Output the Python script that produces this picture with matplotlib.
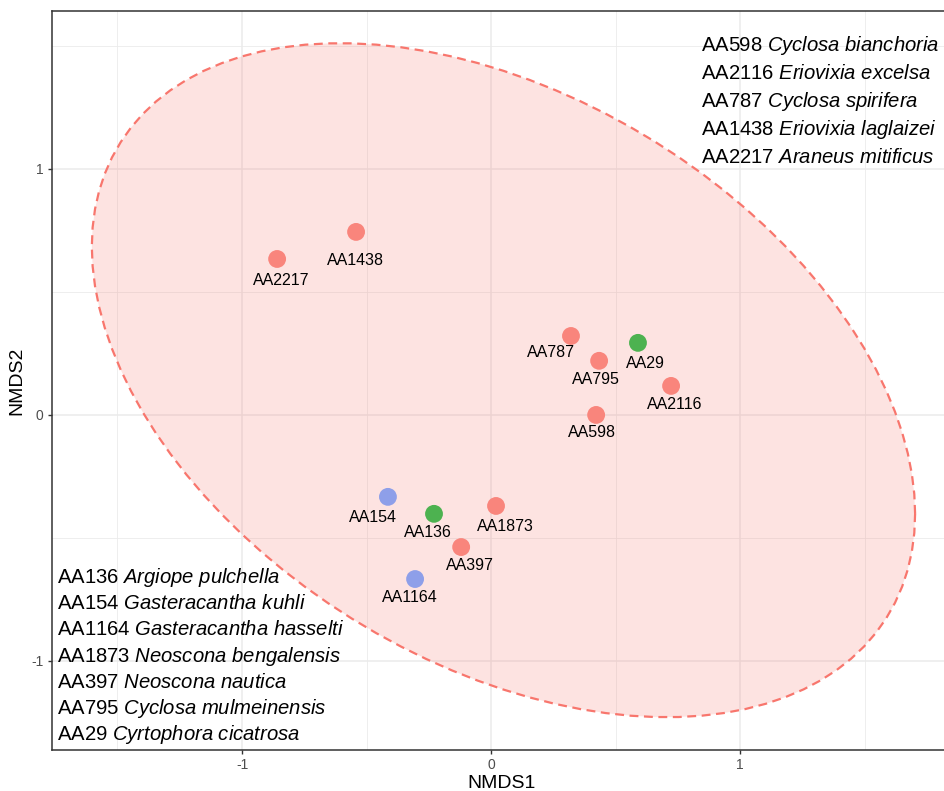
import numpy as np
import matplotlib
matplotlib.use("Agg")
import matplotlib.pyplot as plt

plt.rcParams["font.family"] = ["Liberation Sans", "DejaVu Sans"]
plt.rcParams["mathtext.fontset"] = "custom"
plt.rcParams["mathtext.rm"] = "Liberation Sans"
plt.rcParams["mathtext.it"] = "Liberation Sans:italic"

# NMDS scores per specimen
samples = ["AA2217", "AA1438", "AA787", "AA29", "AA795", "AA2116", "AA598",
           "AA154", "AA136", "AA1873", "AA397", "AA1164"]
nmds1 = [-0.859, -0.542, 0.321, 0.590, 0.434, 0.723, 0.422,
         -0.414, -0.229, 0.020, -0.120, -0.305]
nmds2 = [0.634, 0.744, 0.321, 0.293, 0.220, 0.118, 0.000,
         -0.333, -0.402, -0.370, -0.537, -0.667]
groups = ["Araneinae", "Araneinae", "Araneinae", "Cyrtophorinae", "Araneinae",
          "Araneinae", "Araneinae", "Gasteracanthinae", "Cyrtophorinae",
          "Araneinae", "Araneinae", "Gasteracanthinae"]

key_top = ["AA598", "AA2116", "AA787", "AA1438", "AA2217"]
species_top = ["Cyclosa bianchoria", "Eriovixia excelsa", "Cyclosa spirifera",
               "Eriovixia laglaizei", "Araneus mitificus"]
key_bottom = ["AA136", "AA154", "AA1164", "AA1873", "AA397", "AA795", "AA29"]
species_bottom = ["Argiope pulchella", "Gasteracantha kuhli", "Gasteracantha hasselti",
                  "Neoscona bengalensis", "Neoscona nautica", "Cyclosa mulmeinensis",
                  "Cyrtophora cicatrosa"]

group_colors = {"Araneinae": "#F9857C", "Cyrtophorinae": "#4DB250",
                "Gasteracanthinae": "#8E9FE9"}

# repelled label offsets (pixels, x right / y down)
label_dx = [4, -1, -20, 7, -3, 4, -4, -15, -6, 9, 9, -5]
label_dy = [22, 29, 17, 21, 19, 19, 18, 21, 19, 21, 18, 18]


def norm_ellipse(x, y, level=0.95, segments=101):
    pts = np.column_stack([x, y])
    n = len(pts)
    center = pts.mean(axis=0)
    shape = np.cov(pts, rowvar=False)
    dfd = n - 1
    # quantile of F(2, dfd) has a closed form
    qf = dfd / 2 * ((1 - level) ** (-2 / dfd) - 1)
    radius = np.sqrt(2 * qf)
    theta = np.linspace(0, 2 * np.pi, segments)
    circle = np.column_stack([np.cos(theta), np.sin(theta)])
    chol = np.linalg.cholesky(shape).T
    return center + radius * circle @ chol


fig = plt.figure(figsize=(9.45, 7.91), dpi=100)
ax = fig.add_axes([52 / 945, 41 / 791, 900 / 945, 739 / 791])

ax.set_xlim(-1.763, 1.851)
ax.set_ylim(-1.362, 1.642)

for v in [-1.5, -0.5, 0.5, 1.5]:
    ax.axvline(v, color="#EBEBEB", lw=0.6, zorder=0)
    ax.axhline(v, color="#EBEBEB", lw=0.6, zorder=0)
for v in [-1, 0, 1]:
    ax.axvline(v, color="#EBEBEB", lw=1.1, zorder=0)
    ax.axhline(v, color="#EBEBEB", lw=1.1, zorder=0)

x = np.array(nmds1)
y = np.array(nmds2)
g = np.array(groups)
red = g == "Araneinae"
ell = norm_ellipse(x[red], y[red])
ax.fill(ell[:, 0], ell[:, 1], color="#F8766D", alpha=0.2, lw=0, zorder=1)
ax.plot(ell[:, 0], ell[:, 1], color="#F8766D", lw=1.6,
        linestyle=(0, (4, 2.5)), zorder=2)

ax.scatter(x, y, s=165, c=[group_colors[k] for k in groups], lw=0, zorder=3)
for name, xi, yi, dx, dy in zip(samples, x, y, label_dx, label_dy):
    ax.annotate(name, (xi, yi), xytext=(dx, -dy), textcoords="offset pixels",
                ha="center", va="center", fontsize=11.5, color="black", zorder=4)


def species_line(code, species):
    return "%s $\\mathit{%s}$" % (code, species.replace(" ", "\\ "))


for i, (code, sp) in enumerate(zip(key_top, species_top)):
    ax.text(0.7256 * 893 / 898, 0.946 - i * 28 / 739, species_line(code, sp),
            transform=ax.transAxes, ha="left", va="baseline", fontsize=14.6, color="black")
for i, (code, sp) in enumerate(zip(key_bottom, species_bottom)):
    ax.text(0.0056, 0.226 - i * 26.2 / 739, species_line(code, sp),
            transform=ax.transAxes, ha="left", va="baseline", fontsize=14.6, color="black")

ax.set_xticks([-1, 0, 1])
ax.set_yticks([-1, 0, 1])
ax.set_xticklabels(["-1", "0", "1"])
ax.set_yticklabels(["-1", "0", "1"])
ax.tick_params(direction="out", length=3, width=1.0, color="#333333",
               labelcolor="#4D4D4D", labelsize=10, pad=3)
for s in ax.spines.values():
    s.set_color("#333333")
    s.set_linewidth(1.1)
ax.spines["right"].set_visible(False)

ax.set_xlabel("NMDS1", fontsize=14, labelpad=2)
ax.set_ylabel("NMDS2", fontsize=14, labelpad=4)

fig.savefig("out.png", dpi=100)
